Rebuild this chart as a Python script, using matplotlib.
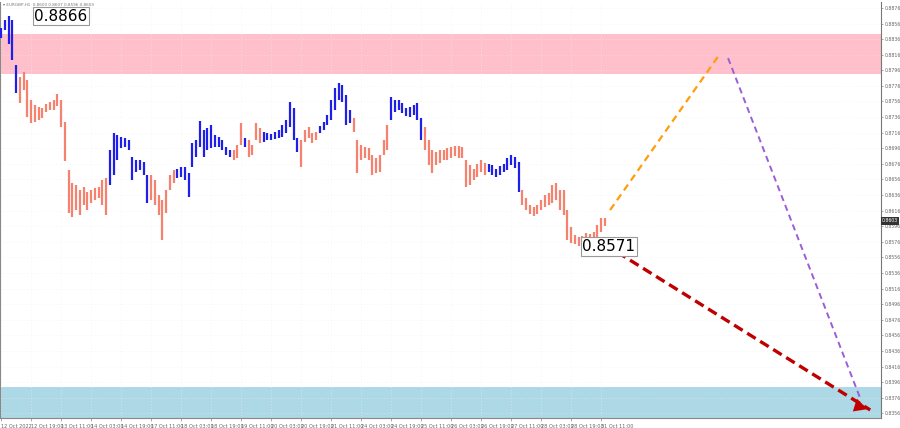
import matplotlib
matplotlib.use('Agg')
import matplotlib.pyplot as plt
from matplotlib.patches import FancyArrowPatch

# EURGBP H1, drawn as 2-hour bars (values in 1e-4 price units)
bar_high = [8850, 8860, 8866, 8860, 8803, 8787, 8794, 8783, 8758, 8751,
            8749, 8747, 8753, 8755, 8758, 8765, 8758, 8730, 8668, 8651,
            8649, 8642, 8646, 8640, 8642, 8645, 8646, 8655, 8658, 8694,
            8716, 8713, 8710, 8709, 8707, 8685, 8681, 8681, 8678, 8662,
            8662, 8655, 8636, 8630, 8642, 8662, 8668, 8670, 8672, 8672,
            8664, 8703, 8707, 8731, 8719, 8722, 8726, 8713, 8710, 8707,
            8698, 8694, 8694, 8700, 8728, 8709, 8707, 8700, 8728, 8722,
            8717, 8716, 8714, 8717, 8719, 8726, 8732, 8755, 8748, 8709,
            8707, 8719, 8723, 8716, 8717, 8725, 8730, 8739, 8758, 8773,
            8780, 8777, 8764, 8745, 8735, 8707, 8700, 8698, 8696, 8687,
            8684, 8687, 8707, 8726, 8762, 8758, 8758, 8754, 8748, 8749,
            8751, 8754, 8735, 8723, 8707, 8694, 8691, 8694, 8694, 8696,
            8698, 8699, 8699, 8698, 8681, 8675, 8670, 8676, 8681, 8677,
            8676, 8675, 8670, 8673, 8676, 8684, 8687, 8685, 8678, 8642,
            8632, 8623, 8621, 8623, 8630, 8636, 8639, 8649, 8651, 8642,
            8642, 8617, 8595, 8585, 8582, 8583, 8587, 8586, 8588, 8597,
            8606, 8607]
bar_low = [8838, 8848, 8830, 8809, 8767, 8754, 8771, 8736, 8728, 8730,
           8732, 8735, 8742, 8745, 8745, 8750, 8723, 8680, 8613, 8608,
           8617, 8611, 8623, 8617, 8626, 8630, 8632, 8623, 8610, 8649,
           8662, 8681, 8696, 8698, 8694, 8655, 8666, 8668, 8662, 8626,
           8630, 8623, 8610, 8578, 8613, 8642, 8651, 8658, 8659, 8655,
           8633, 8672, 8685, 8698, 8685, 8694, 8696, 8698, 8698, 8694,
           8688, 8685, 8681, 8684, 8700, 8698, 8685, 8687, 8707, 8703,
           8704, 8707, 8707, 8708, 8709, 8710, 8716, 8723, 8707, 8691,
           8672, 8704, 8709, 8703, 8707, 8716, 8719, 8726, 8732, 8745,
           8758, 8755, 8726, 8728, 8717, 8664, 8681, 8684, 8681, 8662,
           8664, 8666, 8687, 8694, 8732, 8742, 8745, 8741, 8737, 8736,
           8739, 8732, 8707, 8694, 8675, 8664, 8675, 8677, 8681, 8681,
           8684, 8686, 8684, 8684, 8646, 8649, 8655, 8659, 8666, 8662,
           8665, 8662, 8659, 8662, 8666, 8668, 8675, 8671, 8640, 8623,
           8617, 8612, 8609, 8612, 8617, 8621, 8623, 8626, 8630, 8617,
           8611, 8578, 8574, 8573, 8571, 8572, 8574, 8574, 8576, 8578,
           8588, 8596]
# wave colouring: (wave, number of bars)
wave_runs = [('b', 5), ('s', 24), ('b', 11), ('s', 7), ('b', 15), ('s', 3),
             ('b', 1), ('s', 4), ('b', 10), ('s', 5), ('b', 9), ('s', 10),
             ('b', 9), ('s', 17), ('b', 9), ('s', 23)]

time_labels = ['12 Oct 2022', '12 Oct 19:00', '13 Oct 11:00', '14 Oct 03:00',
               '14 Oct 19:00', '17 Oct 11:00', '18 Oct 03:00', '18 Oct 19:00',
               '19 Oct 11:00', '20 Oct 03:00', '20 Oct 19:00', '21 Oct 11:00',
               '24 Oct 03:00', '24 Oct 19:00', '25 Oct 11:00', '26 Oct 03:00',
               '26 Oct 19:00', '27 Oct 11:00', '28 Oct 03:00', '28 Oct 19:00',
               '31 Oct 11:00']
price_ticks = [0.8356 + 0.002 * k for k in range(27)]

resistance_zone = (0.87911, 0.88424)
support_zone = (0.8300, 0.83899)

# forecast paths (hour index, price)
orange_path = ([324.8, 382.9], [0.86168, 0.88155])
purple_path = ([387.7, 458.1], [0.88116, 0.83758])
red_path = ([328.5, 463.5], [0.85629, 0.83604])

high_label = (32, 0.88655, '0.8866')
low_label = (324, 0.8570, '0.8571')
last_price = '0.8603'
header = '\u25be EURGBP,H1  0.8600 0.8607 0.8596 0.8603'

colors = {'b': '#1f1fe8', 's': '#f5826e'}

fig = plt.figure(figsize=(9, 4.28), dpi=100)
ax = fig.add_axes([0.0, 0.0234, 0.979, 0.9716])

# zones
ax.axhspan(*resistance_zone, color='#ffc0cb', zorder=0, lw=0)
ax.axhspan(*support_zone, color='#add8e6', zorder=0, lw=0)

# bars
j = 0
for wave, n in wave_runs:
    xs = [2 * k for k in range(j, j + n)]
    ax.vlines(xs, [v / 10000 for v in bar_low[j:j + n]],
              [v / 10000 for v in bar_high[j:j + n]],
              color=colors[wave], lw=1.6, zorder=3)
    j += n

# forecasts
ax.plot(*orange_path, color='#ff9d0a', lw=1.6, ls=(0, (3.2, 2.2)), zorder=4)
ax.plot(*purple_path, color='#9a5ed8', lw=1.4, ls=(0, (3.2, 2.2)), zorder=4)
ax.plot(*red_path, color='#c00000', lw=2.4, ls=(0, (3, 1.6)), zorder=4)
ax.add_patch(FancyArrowPatch((red_path[0][1] - 8, red_path[1][1] + 0.00061),
                             (red_path[0][1], red_path[1][1]),
                             arrowstyle='-|>', mutation_scale=24,
                             color='#c00000', lw=0, zorder=5))

for x, y, txt in [high_label, low_label]:
    ax.text(x, y, txt, fontsize=11, ha='center', va='center', zorder=6,
            bbox=dict(boxstyle='square,pad=0.1', fc='white', ec='#999999', lw=0.8))

ax.set_xlim(-0.533, 469.3)
ax.set_ylim(0.83501, 0.88834)

ax.set_xticks(range(0, 321, 16))
ax.set_xticklabels(time_labels, fontsize=3.6, color='#666666', ha='left')
ax.yaxis.tick_right()
ax.set_yticks(price_ticks)
ax.set_yticklabels(['%.4f' % p for p in price_ticks], fontsize=3.3, color='#666666')
ax.tick_params(axis='x', length=2, width=0.5, color='#888888', pad=2)
ax.tick_params(axis='y', length=1.5, width=0.5, color='#888888', pad=1)

ax.grid(True, color='#eeeeee', lw=0.5, ls=(0, (1, 3)), zorder=1)

ax.spines['top'].set_visible(False)
ax.spines['left'].set_color('#888888')
ax.spines['right'].set_color('#777777')
ax.spines['bottom'].set_color('#888888')
for side in ['left', 'right', 'bottom']:
    ax.spines[side].set_linewidth(0.8)

ax.text(1.001, 0.8603, last_price, transform=ax.get_yaxis_transform(),
        fontsize=3.3, color='white', va='center', ha='left', clip_on=False,
        bbox=dict(boxstyle='square,pad=0.3', fc='#333333', ec='none'))
ax.text(0.003, 0.997, header, transform=ax.transAxes, fontsize=3.0,
        color='#777777', va='top', ha='left')

fig.savefig('out.png', dpi=100)
